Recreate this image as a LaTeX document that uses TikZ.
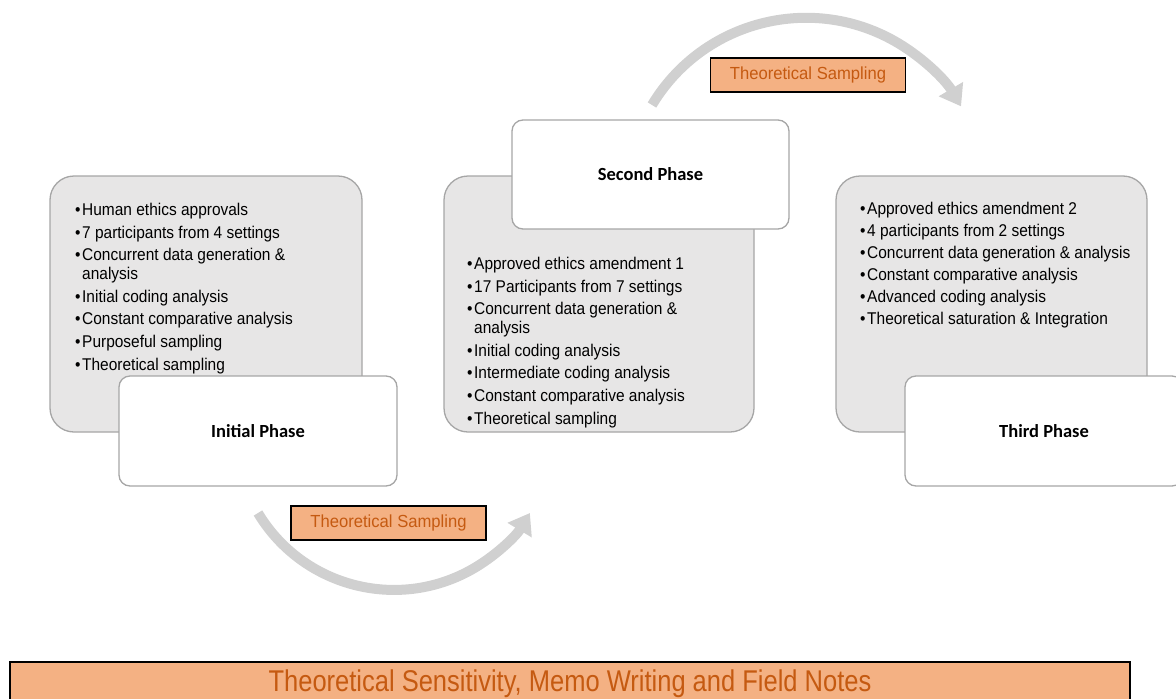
\documentclass[tikz,border=0pt]{standalone}
\usepackage{fontspec}
\setmainfont{Liberation Sans}
\newfontfamily\listfont{Liberation Sans}[FakeStretch=0.91]
\newfontfamily\tagfont{Liberation Sans}[FakeStretch=0.95]
\newfontfamily\bannerfont{Liberation Sans}[FakeStretch=0.85]
\newfontfamily\phasefont{Carlito}
\usetikzlibrary{arrows.meta}
\definecolor{panelgrey}{HTML}{E7E6E6}
\definecolor{edgegrey}{HTML}{A6A6A6}
\definecolor{arcgrey}{HTML}{D0D0D0}
\definecolor{tagfill}{HTML}{F4B183}
\definecolor{tagtext}{HTML}{C55A11}
% bullet with a hanging indent
\newcommand{\bul}{\makebox[7pt][l]{•}}
\newcommand{\cont}{\hspace*{7pt}}
\tikzset{
  panel/.style={draw=edgegrey, line width=1.3pt, fill=panelgrey, rounded corners=24pt},
  phasebox/.style={draw=edgegrey, line width=1.3pt, fill=white, rounded corners=11pt,
    font=\phasefont\bfseries\fontsize{18.5}{20}\selectfont},
  items/.style={anchor=north west, inner sep=0pt, align=left,
    font=\listfont\fontsize{17}{18.5}\selectfont},
  cyclearc/.style={draw=arcgrey, line width=10pt, -{Triangle[length=20pt,width=27pt]}},
  tag/.style={draw=black, line width=1.5pt, fill=tagfill, text=tagtext,
    font=\tagfont\fontsize{17.5}{18}\selectfont, minimum width=195pt,
    minimum height=34pt, inner sep=0pt},
  banner/.style={draw=black, line width=1.5pt, fill=tagfill, text=tagtext,
    font=\bannerfont\fontsize{30}{32}\selectfont, minimum width=1120pt,
    minimum height=44pt, inner sep=0pt, anchor=north}
}
\begin{document}
\begin{tikzpicture}[x=1pt,y=-1pt]
\useasboundingbox (0,0) rectangle (1176,699);
\clip (0,0) rectangle (1176,699);

% initial phase
\node[panel, minimum width=312pt, minimum height=256pt] (p1) at (206,304) {};
\node[items] (l1) at (75,203) {%
\bul Human ethics approvals\\[4.2pt]
\bul 7 participants from 4 settings\\[4.2pt]
\bul Concurrent data generation \&\\
\cont analysis\\[4.2pt]
\bul Initial coding analysis\\[4.2pt]
\bul Constant comparative analysis\\[4.2pt]
\bul Purposeful sampling\\[4.2pt]
\bul Theoretical sampling};
\node[phasebox, minimum width=278pt, minimum height=110pt] (h1) at (258,431) {Initial Phase};

% second phase
\node[panel, minimum width=310pt, minimum height=256pt] (p2) at (599,304) {};
\node[items] (l2) at (467,257) {%
\bul Approved ethics amendment 1\\[4.2pt]
\bul 17 Participants from 7 settings\\[4.2pt]
\bul Concurrent data generation \&\\
\cont analysis\\[4.2pt]
\bul Initial coding analysis\\[4.2pt]
\bul Intermediate coding analysis\\[4.2pt]
\bul Constant comparative analysis\\[4.2pt]
\bul Theoretical sampling};
\node[phasebox, minimum width=277pt, minimum height=109pt] (h2) at (650.5,174.5) {Second Phase};

% third phase
\node[panel, minimum width=311pt, minimum height=256pt] (p3) at (991.5,304) {};
\node[items] (l3) at (860,202) {%
\bul Approved ethics amendment 2\\[3.5pt]
\bul 4 participants from 2 settings\\[3.5pt]
\bul Concurrent data generation \& analysis\\[3.5pt]
\bul Constant comparative analysis\\[3.5pt]
\bul Advanced coding analysis\\[3.5pt]
\bul Theoretical saturation \& Integration};
\node[phasebox, minimum width=278pt, minimum height=110pt] (h3) at (1044,431) {Third Phase};

% sampling cycles between phases
\coordinate (c1) at (258,513);
\coordinate (c2) at (652,105);
\draw[cyclearc] (c1) arc[start angle=211, end angle=329, radius=158.6pt];
\draw[cyclearc] (c2) arc[start angle=149, end angle=30.5, radius=179.8pt];
\node[tag] (t1) at (388.5,523) {Theoretical Sampling};
\node[tag] (t2) at (808,75) {Theoretical Sampling};

% running process underneath
\node[banner] (b) at (570,661) {Theoretical Sensitivity, Memo Writing and Field Notes};
\end{tikzpicture}
\end{document}
